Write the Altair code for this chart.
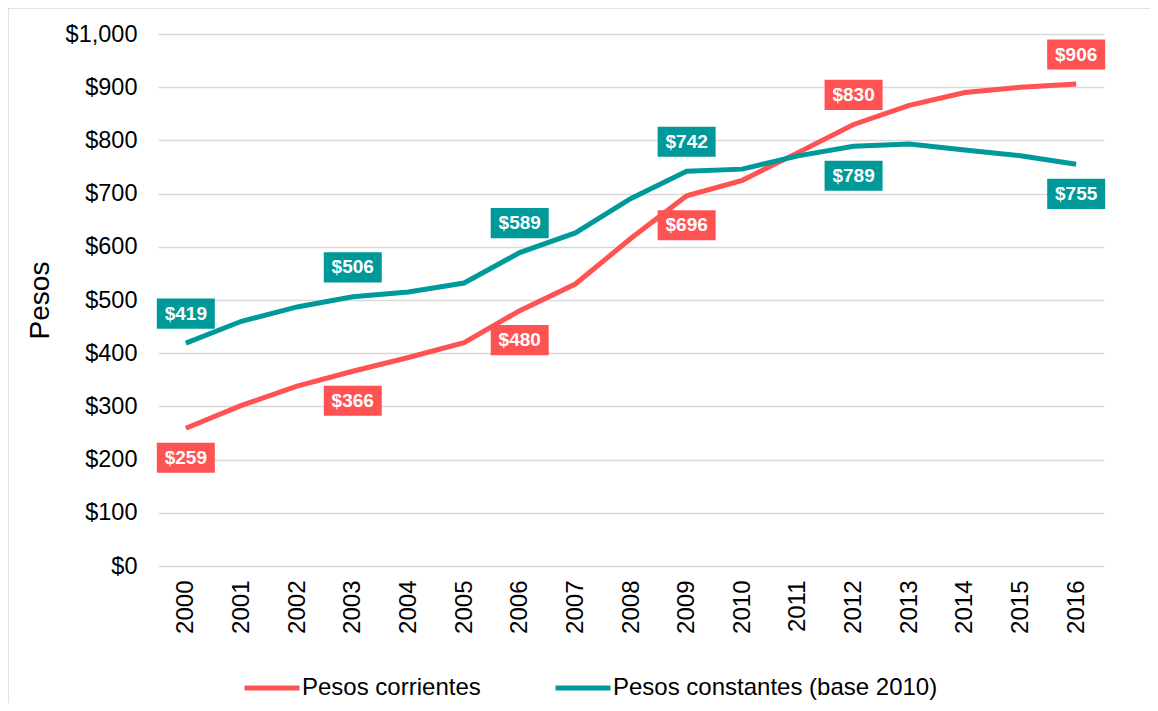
import altair as alt
import pandas as pd

years = [str(y) for y in range(2000, 2017)]
corrientes = [259, 302, 338, 366, 392, 420, 480, 530, 616, 696, 725, 777, 830, 866, 890, 900, 906]
constantes = [419, 460, 487, 506, 515, 532, 589, 626, 691, 742, 746, 771, 789, 793, 782, 771, 755]
series_names = ["Pesos corrientes", "Pesos constantes (base 2010)"]
colors = ["#FF5252", "#009999"]
label_years = ["2000", "2003", "2006", "2009", "2012", "2016"]
corrientes_label_pos = ["below", "below", "below", "below", "above", "above"]
constantes_label_pos = ["above", "above", "above", "above", "below", "below"]
y_ticks = list(range(0, 1001, 100))

FONT = "Liberation Sans"

rows = []
for s, vals in zip(series_names, [corrientes, constantes]):
    for yr, v in zip(years, vals):
        rows.append({"year": yr, "series": s, "value": v})
df = pd.DataFrame(rows)

lab_rows = []
for s, vals, poss in zip(series_names, [corrientes, constantes],
                         [corrientes_label_pos, constantes_label_pos]):
    for yr, pos in zip(label_years, poss):
        v = vals[years.index(yr)]
        lab_rows.append({"year": yr, "series": s, "value": v, "pos": pos,
                         "label": f"${v}"})
ldf = pd.DataFrame(lab_rows)

x_enc = alt.X("year:O", sort=years,
              scale=alt.Scale(type="point", padding=0.5),
              axis=alt.Axis(title=None, labelAngle=-90, labelFontSize=24,
                            labelPadding=14, ticks=False, domain=False,
                            grid=False, labelColor="black", labelFont=FONT))
y_enc = alt.Y("value:Q", scale=alt.Scale(domain=[0, 1000], nice=False),
              axis=alt.Axis(title="Pesos", values=y_ticks, format="$,.0f",
                            labelFontSize=23.5, labelPadding=21, labelColor="black",
                            labelFont=FONT, ticks=False, domain=False,
                            gridColor="#d9d9d9", gridWidth=1.5,
                            titleFontSize=28, titleFontWeight="normal",
                            titleFont=FONT, titleColor="black",
                            titleAngle=-90, titleX=-118, titleY=266,
                            titleAlign="center", titleBaseline="middle"))

color_scale = alt.Scale(domain=series_names, range=colors)

border = alt.Chart(pd.DataFrame({"a": [0]})).mark_rect(
    fillOpacity=0, stroke="#d9d9d9", strokeWidth=1.5
).encode(x=alt.value(-150), x2=alt.value(1100), y=alt.value(-26), y2=alt.value(800))

lines = alt.Chart(df).mark_line(strokeWidth=5).encode(
    x=x_enc, y=y_enc,
    color=alt.Color("series:N", scale=color_scale, sort=series_names,
                    legend=alt.Legend(title=None, orient="none", legendX=84,
                                      legendY=624, direction="horizontal",
                                      symbolType="stroke", symbolSize=3025,
                                      symbolStrokeWidth=5, labelFontSize=24,
                                      labelFont=FONT, labelColor="black",
                                      labelLimit=1000,
                                      columnPadding=64, labelOffset=0)),
    detail="series:N",
)

box_shape = "M-1,-0.52L1,-0.52L1,0.52L-1,0.52Z"

def boxes(pos, off):
    return alt.Chart(ldf).transform_filter(alt.datum.pos == pos).mark_point(
        shape=box_shape, size=3364, filled=True, opacity=1, strokeWidth=0,
        yOffset=off
    ).encode(x=x_enc, y=y_enc,
             fill=alt.Fill("series:N", scale=color_scale, legend=None))

def texts(pos, off):
    return alt.Chart(ldf).transform_filter(alt.datum.pos == pos).mark_text(
        font=FONT, fontSize=19, fontWeight="bold", color="white",
        align="center", baseline="middle", yOffset=off
    ).encode(x=x_enc, y=y_enc, text="label:N")

chart = alt.layer(
    border, lines,
    boxes("above", -29.5), boxes("below", 29.5),
    texts("above", -29.5), texts("below", 29.5),
).properties(
    width=946, height=532,
    autosize=alt.AutoSizeParams(type="none"),
    padding={"left": 150, "top": 26, "right": 46, "bottom": 137},
    background="white",
).configure_view(stroke=None)

chart.save("out.html", embed_options={"renderer": "svg", "actions": False})
